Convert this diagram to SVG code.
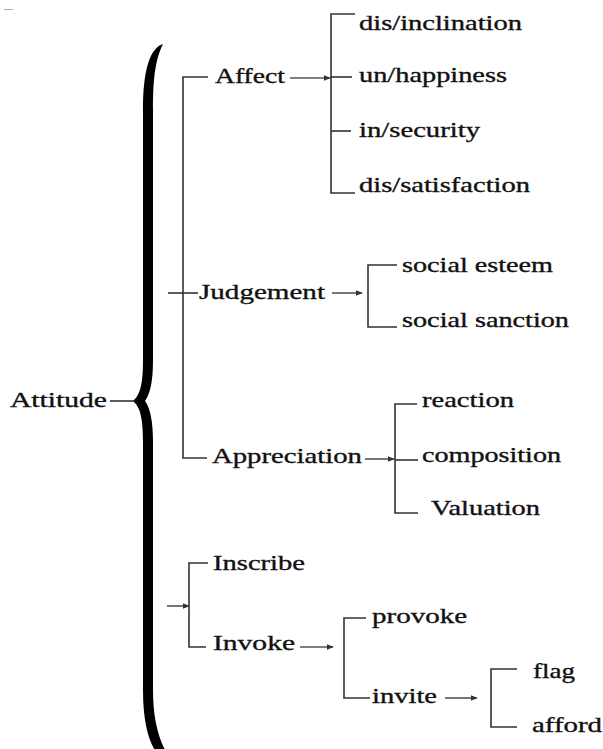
<svg xmlns="http://www.w3.org/2000/svg" width="603" height="749" viewBox="0 0 603 749">
<defs>
<marker id="ah" viewBox="0 0 10 10" refX="9" refY="5" markerWidth="7" markerHeight="7" markerUnits="userSpaceOnUse" orient="auto">
<path d="M0,1 L10,5 L0,9 Z" fill="#333"/>
</marker>
<style>
.t{font-family:"Liberation Serif","Times New Roman",serif;font-size:21.5px;fill:#111;stroke:#111;stroke-width:0.35;}
.ln{stroke:#333;stroke-width:1.6;fill:none;}
.ar{stroke:#555;stroke-width:1.6;fill:none;marker-end:url(#ah);}
</style>
</defs>
<rect width="603" height="749" fill="#fff"/>
<line x1="4" y1="9.5" x2="13" y2="9.5" stroke="#aaa" stroke-width="1"/>
<g id="brace">
<path d="M163,44 C150,48 143,70 143,110 L143,360 C143,385 140,395 133,401 C140,407 143,417 143,442 L143,690 C143,720 148,740 156,752 L166,752 C157,735 153,715 153,690 L153,442 C153,420 150,408 145,401 C150,394 153,382 153,360 L153,110 C153,80 155,60 163,44 Z" fill="#000"/>
</g>
<g id="connectors">
<line class="ln" x1="110" y1="401" x2="135" y2="401"/>
<polyline class="ln" points="208,77 183,77 183,458 207,458"/>
<line class="ln" x1="168" y1="293" x2="198" y2="293"/>
<line class="ar" x1="290" y1="78" x2="330" y2="78"/>
<line class="ar" x1="332" y1="293" x2="362" y2="293"/>
<line class="ar" x1="365" y1="459" x2="394" y2="459"/>
<polyline class="ln" points="355,14 331,14 331,193 355,193"/>
<line class="ln" x1="331" y1="77" x2="352" y2="77"/>
<line class="ln" x1="331" y1="131" x2="351" y2="131"/>
<polyline class="ln" points="397,265 368,265 368,327 397,327"/>
<polyline class="ln" points="417,404 395,404 395,513 418,513"/>
<line class="ln" x1="395" y1="460" x2="418" y2="460"/>
<line class="ar" x1="167" y1="606" x2="189" y2="606"/>
<polyline class="ln" points="208,563 189,563 189,647 206,647"/>
<line class="ar" x1="300" y1="647" x2="333" y2="647"/>
<polyline class="ln" points="366,618 344,618 344,698 370,698"/>
<line class="ar" x1="445" y1="698" x2="477" y2="698"/>
<polyline class="ln" points="517,669 491,669 491,727 517,727"/>
</g>
<g id="n-attitude"><text class="t" x="10" y="407" textLength="97" lengthAdjust="spacingAndGlyphs">Attitude</text></g>
<g id="n-affect"><text class="t" x="215" y="83" textLength="70" lengthAdjust="spacingAndGlyphs">Affect</text></g>
<g id="n-judgement"><text class="t" x="199" y="299" textLength="126" lengthAdjust="spacingAndGlyphs">Judgement</text></g>
<g id="n-appreciation"><text class="t" x="212" y="463" textLength="150" lengthAdjust="spacingAndGlyphs">Appreciation</text></g>
<g id="n-inscribe"><text class="t" x="213" y="570" textLength="92" lengthAdjust="spacingAndGlyphs">Inscribe</text></g>
<g id="n-invoke"><text class="t" x="213" y="650" textLength="82" lengthAdjust="spacingAndGlyphs">Invoke</text></g>
<g id="n-disinclination"><text class="t" x="359" y="30" textLength="163" lengthAdjust="spacingAndGlyphs">dis/inclination</text></g>
<g id="n-unhappiness"><text class="t" x="359" y="82" textLength="148" lengthAdjust="spacingAndGlyphs">un/happiness</text></g>
<g id="n-insecurity"><text class="t" x="359" y="137" textLength="121" lengthAdjust="spacingAndGlyphs">in/security</text></g>
<g id="n-dissatisfaction"><text class="t" x="359" y="192" textLength="171" lengthAdjust="spacingAndGlyphs">dis/satisfaction</text></g>
<g id="n-socialesteem"><text class="t" x="402" y="272" textLength="151" lengthAdjust="spacingAndGlyphs">social esteem</text></g>
<g id="n-socialsanction"><text class="t" x="402" y="327" textLength="167" lengthAdjust="spacingAndGlyphs">social sanction</text></g>
<g id="n-reaction"><text class="t" x="422" y="407" textLength="92" lengthAdjust="spacingAndGlyphs">reaction</text></g>
<g id="n-composition"><text class="t" x="422" y="462" textLength="139" lengthAdjust="spacingAndGlyphs">composition</text></g>
<g id="n-valuation"><text class="t" x="431" y="515" textLength="109" lengthAdjust="spacingAndGlyphs">Valuation</text></g>
<g id="n-provoke"><text class="t" x="372" y="623" textLength="95" lengthAdjust="spacingAndGlyphs">provoke</text></g>
<g id="n-invite"><text class="t" x="372" y="703" textLength="65" lengthAdjust="spacingAndGlyphs">invite</text></g>
<g id="n-flag"><text class="t" x="533" y="678" textLength="42" lengthAdjust="spacingAndGlyphs">flag</text></g>
<g id="n-afford"><text class="t" x="532" y="732" textLength="70" lengthAdjust="spacingAndGlyphs">afford</text></g>
</svg>
